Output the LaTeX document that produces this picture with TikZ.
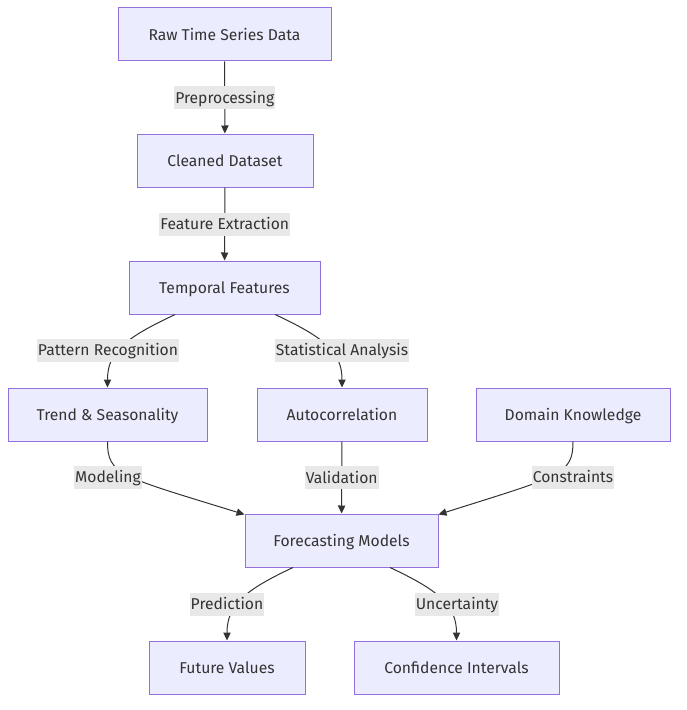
\documentclass[tikz,border=0pt]{standalone}
\usepackage{fontspec}
\setmainfont{Fira Sans}
\usetikzlibrary{arrows.meta}
\definecolor{boxfill}{HTML}{ECECFF}
\definecolor{boxline}{HTML}{9370DB}
\definecolor{edgeline}{HTML}{333333}
\definecolor{labelbg}{HTML}{E8E8E8}
\definecolor{textcol}{HTML}{333333}
\tikzset{
box/.style = {draw = boxline, fill = boxfill, line width = 0.75pt, text = textcol,
  minimum height = 39.75pt, minimum width = #1*0.75pt, text height = 10pt, text depth = 0.5pt,
  font = \fontsize{11.75}{14}\selectfont},
lab/.style = {fill = labelbg, text = textcol, inner xsep = 0.75pt, inner ysep = 0pt,
  minimum height = 17.25pt, text height = 9.5pt, text depth = 1pt,
  font = \fontsize{11.75}{14}\selectfont},
edge/.style = {draw = edgeline, line width = 0.75pt, -{Triangle[length = 6pt, width = 5.5pt]}}
}
\begin{document}
\begin{tikzpicture}[x = 0.75pt, y = -0.75pt]
\useasboundingbox (0,0) rectangle (686,710);
% boxes
\node [box = 213] (raw) at (224.5,34.5) {Raw Time Series Data};
\node [box = 176] (clean) at (225,160.5) {Cleaned Dataset};
\node [box = 191] (temp) at (224.5,287.5) {Temporal Features};
\node [box = 199] (trend) at (107.5,414.5) {Trend \& Seasonality};
\node [box = 170] (auto) at (342,414.5) {Autocorrelation};
\node [box = 194] (domain) at (573,414.5) {Domain Knowledge};
\node [box = 193] (fore) at (341.5,540.5) {Forecasting Models};
\node [box = 156] (future) at (227,667.5) {Future Values};
\node [box = 205] (conf) at (456.5,667.5) {Confidence Intervals};
% straight edges
\draw [edge] (raw) -- (clean) node [lab, midway] (lprep) {Preprocessing};
\draw [edge] (clean) -- (temp) node [lab, midway] (lfeat) {Feature Extraction};
\draw [edge] (auto) -- (fore) node [lab, midway] (lvalid) {Validation};
% curved edges
\draw [edge] ([xshift = -37pt]temp.south) .. controls (125,338) and (107.5,352) .. (trend.north);
\draw [edge] ([xshift = 38pt]temp.south) .. controls (325,338) and (342,352) .. (auto.north);
\draw [edge] (trend.south) .. controls (107.5,475) and (120,476) .. ([yshift = -0.75pt]fore.north west);
\draw [edge] (domain.south) .. controls (573,475) and (560,476) .. ([yshift = -0.75pt]fore.north east);
\draw [edge] ([xshift = -36.4pt]fore.south) .. controls (245,590) and (227,605) .. (future.north);
\draw [edge] ([xshift = 36.4pt]fore.south) .. controls (438,590) and (456.5,605) .. (conf.north);
% labels on the curved edges
\node [lab] (lpat) at (108,350) {Pattern Recognition};
\node [lab] (lstat) at (342,350) {Statistical Analysis};
\node [lab] (lmod) at (108,477) {Modeling};
\node [lab] (lcons) at (573,477) {Constraints};
\node [lab] (lpred) at (227,604) {Prediction};
\node [lab] (lunc) at (457,604) {Uncertainty};
\end{tikzpicture}
\end{document}
